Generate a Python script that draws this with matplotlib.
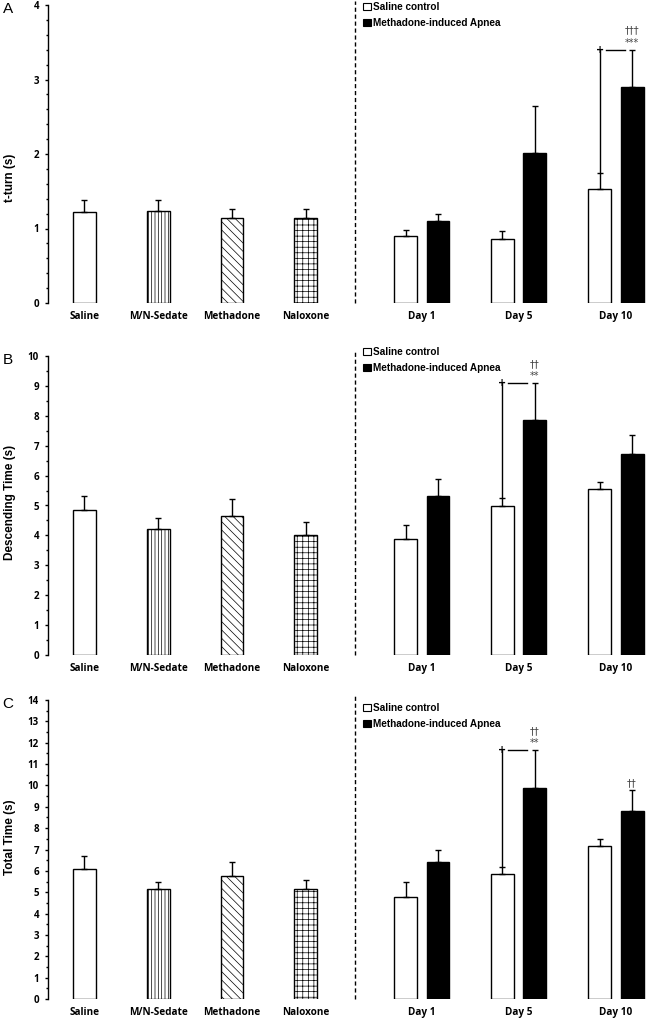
import numpy as np
import matplotlib.pyplot as plt
from matplotlib.patches import Patch

plt.rcParams['font.family'] = ['Liberation Sans', 'DejaVu Sans']
plt.rcParams['hatch.linewidth'] = 0.5

treatments = ["Saline", "M/N-Sedate", "Methadone", "Naloxone"]
days = ["Day 1", "Day 5", "Day 10"]
hatches = ["", "|||||", "\\\\\\\\", "+++"]

# panel A - t-turn
tturn_treat = [1.22, 1.23, 1.14, 1.14]
tturn_treat_err = [0.16, 0.15, 0.12, 0.12]
tturn_saline = [0.90, 0.86, 1.53]
tturn_saline_err = [0.08, 0.10, 0.21]
tturn_apnea = [1.10, 2.02, 2.90]
tturn_apnea_err = [0.09, 0.62, 0.50]

# panel B - descending time
desc_treat = [4.85, 4.21, 4.65, 4.01]
desc_treat_err = [0.48, 0.36, 0.56, 0.43]
desc_saline = [3.87, 4.99, 5.56]
desc_saline_err = [0.49, 0.27, 0.21]
desc_apnea = [5.32, 7.85, 6.73]
desc_apnea_err = [0.56, 1.24, 0.63]

# panel C - total time
total_treat = [6.10, 5.16, 5.74, 5.13]
total_treat_err = [0.58, 0.32, 0.66, 0.44]
total_saline = [4.77, 5.87, 7.18]
total_saline_err = [0.72, 0.31, 0.33]
total_apnea = [6.40, 9.89, 8.81]
total_apnea_err = [0.58, 1.75, 0.99]

panels = [
    dict(letter="A", ylabel="t-turn (s)", ymax=4, minor=0.2,
         treat=tturn_treat, treat_err=tturn_treat_err,
         sal=tturn_saline, sal_err=tturn_saline_err,
         apn=tturn_apnea, apn_err=tturn_apnea_err,
         bracket=2, marks={2: ["***", "†††"]},
         rect=[48, 5, 599, 298], label_y=0.42, leg_y=1.01),
    dict(letter="B", ylabel="Descending Time (s)", ymax=10, minor=0.5,
         treat=desc_treat, treat_err=desc_treat_err,
         sal=desc_saline, sal_err=desc_saline_err,
         apn=desc_apnea, apn_err=desc_apnea_err,
         bracket=1, marks={1: ["**", "††"]},
         rect=[48, 356, 599, 299], label_y=0.51, leg_y=1.03),
    dict(letter="C", ylabel="Total Time (s)", ymax=14, minor=0.5,
         treat=total_treat, treat_err=total_treat_err,
         sal=total_saline, sal_err=total_saline_err,
         apn=total_apnea, apn_err=total_apnea_err,
         bracket=1, marks={1: ["**", "††"], 2: ["††"]},
         rect=[48, 700, 599, 299], label_y=0.54, leg_y=0.99),
]

W, H = 647, 1023
fig = plt.figure(figsize=(W / 100, H / 100), dpi=100)

x_treat = np.arange(4)
x_days = np.array([4.576, 5.889, 7.208])
off = 0.22
bw = 0.31
tick_font = ["Open Sans", "DejaVu Sans"]

for p in panels:
    l, t, w, h = p["rect"]
    ax = fig.add_axes([l / W, 1 - (t + h) / H, w / W, h / H])

    for i in range(4):
        ax.bar(x_treat[i], p["treat"][i], bw, color="white", edgecolor="black",
               linewidth=1.0, hatch=hatches[i], zorder=2)
    ax.errorbar(x_treat, p["treat"], yerr=[np.zeros(4), p["treat_err"]], fmt="none",
                ecolor="black", elinewidth=1, capsize=2.5, capthick=1, zorder=3)

    xs = x_days - off
    xa = x_days + off
    ax.bar(xs, p["sal"], bw, color="white", edgecolor="black", linewidth=1.0, zorder=2)
    ax.bar(xa, p["apn"], bw, color="black", edgecolor="black", linewidth=1.0, zorder=2)
    ax.errorbar(xs, p["sal"], yerr=[np.zeros(3), p["sal_err"]], fmt="none",
                ecolor="black", elinewidth=1, capsize=2.5, capthick=1, zorder=3)
    ax.errorbar(xa, p["apn"], yerr=[np.zeros(3), p["apn_err"]], fmt="none",
                ecolor="black", elinewidth=1, capsize=2.5, capthick=1, zorder=3)

    ax.axvline(3.67, ymin=0, ymax=1.015, color="black", lw=1, ls=(0, (3, 2)), clip_on=False)

    # significance bracket between saline and apnea
    b = p["bracket"]
    s_top = p["sal"][b] + p["sal_err"][b]
    a_top = p["apn"][b] + p["apn_err"][b]
    ax.plot([xs[b], xs[b]], [s_top, a_top], color="black", lw=1, zorder=3)
    ax.plot([xs[b] + 0.08, xa[b] - 0.1], [a_top, a_top], color="black", lw=1, zorder=3)
    ax.text(xs[b], a_top, "+", ha="center", va="center", fontsize=7,
            fontweight="bold", family=["DejaVu Sans"], zorder=4)

    for d, lines in p["marks"].items():
        top = p["apn"][d] + p["apn_err"][d]
        for k, m in enumerate(lines):
            ax.annotate(m, xy=(xa[d], top), xytext=(0, 5 + 9 * k),
                        textcoords="offset points", ha="center", va="center",
                        fontsize=7, color="#444444", family=["DejaVu Sans"])

    ax.set_xlim(-0.495, 7.63)
    ax.set_ylim(0, p["ymax"])
    ax.set_yticks(np.arange(0, p["ymax"] + 1, 1))
    ax.set_yticks(np.arange(0, p["ymax"] + 0.001, p["minor"]), minor=True)
    ax.set_xticks(list(x_treat) + list(x_days))
    ax.set_xticklabels(treatments + days, fontweight="bold", fontsize=7.2, family=tick_font)
    ax.tick_params(axis="x", length=0, pad=6)
    ax.tick_params(axis="y", which="major", direction="out", length=2.5, width=1, pad=4)
    ax.tick_params(axis="y", which="minor", direction="out", length=1.5, width=1)
    for lab in ax.get_yticklabels():
        lab.set_fontweight("bold")
        lab.set_fontsize(7)
        lab.set_family(tick_font)

    for s in ["top", "right", "bottom"]:
        ax.spines[s].set_visible(False)
    ax.spines["left"].set_linewidth(1)

    ax.set_ylabel(p["ylabel"], fontsize=8.5, fontweight="bold")
    ax.yaxis.set_label_coords(-0.053, p["label_y"])

    handles = [Patch(facecolor="white", edgecolor="black", linewidth=0.8),
               Patch(facecolor="black", edgecolor="black", linewidth=0.8)]
    ax.legend(handles, ["Saline control", "Methadone-induced Apnea"],
              loc="upper left", bbox_to_anchor=(0.526, p["leg_y"]), frameon=False,
              prop={"weight": "bold", "size": 7.2}, handlelength=0.75,
              handleheight=0.75, handletextpad=0.25, labelspacing=0.6,
              borderpad=0, borderaxespad=0)

    fig.text(8 / W, 1 - (t + 4) / H, p["letter"], fontsize=11, ha="center", va="center")

fig.savefig("out.png", dpi=100)
